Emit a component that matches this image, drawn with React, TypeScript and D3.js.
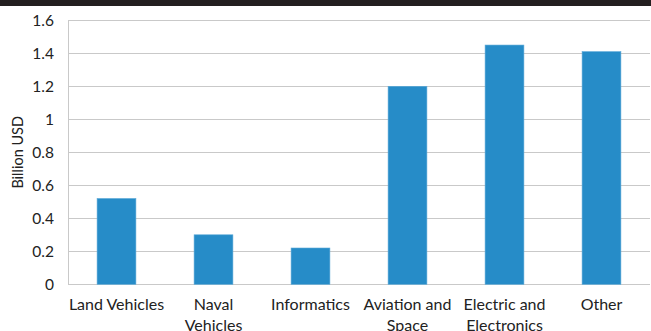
import { useEffect, useRef } from 'react';
import * as d3 from 'd3';

const categories = ['Land Vehicles', 'Naval Vehicles', 'Informatics', 'Aviation and Space', 'Electric and Electronics', 'Other'];
const labelLines = [['Land Vehicles'], ['Naval', 'Vehicles'], ['Informatics'], ['Aviation and', 'Space'], ['Electric and', 'Electronics'], ['Other']];
const values = [0.52, 0.3, 0.22, 1.2, 1.45, 1.41];
const yTicks = [0, 0.2, 0.4, 0.6, 0.8, 1, 1.2, 1.4, 1.6];

const W = 651;
const H = 331;
const FONT = 'Lato, "Open Sans", sans-serif';

export default function App() {
  const svgRef = useRef<SVGSVGElement>(null);

  useEffect(() => {
    if (!svgRef.current) return;
    const svg = d3.select(svgRef.current);
    svg.selectAll('*').remove();

    const margin = { left: 68, right: 1, top: 20.3, bottom: 46.7 };
    const x = d3.scaleBand<string>()
      .domain(categories)
      .range([margin.left, W - margin.right])
      .paddingInner(0.6)
      .paddingOuter(0.3);
    const y = d3.scaleLinear().domain([0, 1.6]).range([H - margin.bottom, margin.top]);

    svg.append('rect').attr('width', W).attr('height', H).attr('fill', '#fff');
    // dark strip at the top
    svg.append('rect').attr('width', W).attr('height', 6).attr('fill', '#231f20');

    // gridlines
    svg.append('g')
      .selectAll('line')
      .data(yTicks)
      .enter()
      .append('line')
      .attr('x1', margin.left)
      .attr('x2', W - margin.right)
      .attr('y1', (d) => Math.round(y(d)) + 0.5)
      .attr('y2', (d) => Math.round(y(d)) + 0.5)
      .attr('stroke', '#c9c9c9')
      .attr('stroke-width', 1);

    // left axis line
    svg.append('line')
      .attr('x1', margin.left + 0.5)
      .attr('x2', margin.left + 0.5)
      .attr('y1', y(1.6))
      .attr('y2', y(0))
      .attr('stroke', '#c9c9c9');

    // bars
    svg.append('g')
      .selectAll('rect')
      .data(values)
      .enter()
      .append('rect')
      .attr('x', (_, i) => x(categories[i]) ?? 0)
      .attr('width', x.bandwidth())
      .attr('y', (d) => y(d))
      .attr('height', (d) => y(0) - y(d))
      .attr('fill', '#268cc8')
      .attr('stroke', '#5aa8d8')
      .attr('stroke-width', 0.6);

    // y tick labels
    svg.append('g')
      .selectAll('text')
      .data(yTicks)
      .enter()
      .append('text')
      .attr('x', 54)
      .attr('y', (d) => y(d))
      .attr('dy', '0.35em')
      .attr('text-anchor', 'end')
      .attr('font-family', FONT)
      .attr('font-size', 15.5)
      .attr('fill', '#222')
      .text((d) => d3.format('~g')(d));

    // x labels
    const xl = svg.append('g');
    labelLines.forEach((lines, i) => {
      const cx = (x(categories[i]) ?? 0) + x.bandwidth() / 2;
      lines.forEach((line, j) => {
        xl.append('text')
          .attr('x', cx)
          .attr('y', 310 + j * 21)
          .attr('text-anchor', 'middle')
          .attr('font-family', FONT)
          .attr('font-size', 16)
          .attr('fill', '#222')
          .text(line);
      });
    });

    // y axis title
    svg.append('text')
      .attr('transform', `translate(23,${(y(0) + y(1.6)) / 2}) rotate(-90)`)
      .attr('text-anchor', 'middle')
      .attr('font-family', FONT)
      .attr('font-size', 14.5)
      .attr('fill', '#222')
      .text('Billion USD');
  }, []);

  return (
    <svg
      ref={svgRef}
      width={W}
      height={H}
      style={{ position: 'absolute', left: 0, top: 0, display: 'block' }}
    />
  );
}
